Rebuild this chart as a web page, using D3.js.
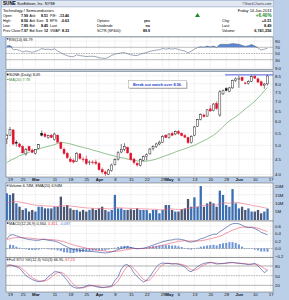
<!DOCTYPE html>
<html lang="en">
<head>
<meta charset="UTF-8" />
<title>SUNE daily chart</title>
<script src="https://d3js.org/d3.v7.min.js"></script>
<style>
  body { margin: 0; background: #bccfe9; }
  svg { display: block; }
  svg text { font-family: "Liberation Sans", Arial, sans-serif; }
  .yax text, .xax text { font-size: 4.3px; fill: #111; font-family: "Liberation Sans", Arial, sans-serif; }
  .yax .domain, .xax .domain { display: none; }
  .grid { stroke: #bfbfbf; stroke-width: 0.4; stroke-dasharray: 0.8, 0.8; }
  .panel { fill: #fff; stroke: #5a5a5a; stroke-width: 0.5; }
</style>
</head>
<body>
<svg width="289" height="300"></svg>
<script>
  // trading days, 15-Feb-2013 .. 14-Jun-2013 (MM-DD)
  const dates = ["02-15","02-19","02-20","02-21","02-22","02-25","02-26","02-27","02-28",
    "03-01","03-04","03-05","03-06","03-07","03-08","03-11","03-12","03-13","03-14","03-15",
    "03-18","03-19","03-20","03-21","03-22","03-25","03-26","03-27","03-28",
    "04-01","04-02","04-03","04-04","04-05","04-08","04-09","04-10","04-11","04-12",
    "04-15","04-16","04-17","04-18","04-19","04-22","04-23","04-24","04-25","04-26","04-29","04-30",
    "05-01","05-02","05-03","05-06","05-07","05-08","05-09","05-10","05-13","05-14","05-15",
    "05-16","05-17","05-20","05-21","05-22","05-23","05-24","05-28","05-29","05-30","05-31",
    "06-03","06-04","06-05","06-06","06-07","06-10","06-11","06-12","06-13","06-14"];
  const axisDates = dates.concat(["06-17"]);

  const open = [5.25,5.40,5.62,5.12,5.05,4.95,4.68,4.95,4.82,4.70,4.88,5.48,5.45,5.30,5.40,5.22,5.40,5.10,4.85,4.70,
    4.50,4.45,4.42,4.68,4.50,4.50,4.38,4.40,4.40,4.35,4.15,4.08,4.00,4.12,4.32,4.50,4.75,4.85,4.92,4.70,
    4.50,4.35,4.28,4.46,4.58,4.68,4.88,4.95,5.05,5.12,5.40,5.30,5.48,5.45,5.55,5.48,5.38,5.30,5.10,5.40,
    5.78,6.10,6.30,6.25,6.60,6.52,6.88,6.30,7.40,7.70,7.55,7.75,8.20,8.25,8.40,8.05,8.00,8.15,8.48,8.30,
    8.12,7.88,7.99];
  const high = [5.45,5.75,5.66,5.20,5.10,5.00,4.90,4.98,4.88,4.86,5.05,5.60,5.52,5.42,5.45,5.50,5.44,5.15,4.92,4.75,
    4.58,4.52,4.75,4.72,4.58,4.62,4.45,4.46,4.48,4.40,4.22,4.12,4.18,4.35,4.52,4.78,5.05,5.08,4.95,4.74,
    4.55,4.40,4.52,4.62,4.70,4.90,5.00,5.10,5.18,5.40,5.45,5.48,5.55,5.60,5.62,5.52,5.45,5.34,5.40,5.80,
    6.12,6.38,6.36,6.60,6.78,6.90,7.00,7.62,7.65,7.78,7.80,8.25,8.40,8.50,8.45,8.12,8.22,8.55,8.52,8.38,
    8.20,8.05,8.56];
  const low = [5.05,5.38,5.00,4.95,4.90,4.70,4.62,4.78,4.70,4.66,4.85,5.35,5.30,5.25,5.28,5.18,5.10,4.85,4.65,4.50,
    4.38,4.35,4.40,4.48,4.40,4.30,4.30,4.32,4.30,4.12,4.02,3.95,3.98,4.08,4.28,4.45,4.70,4.78,4.68,4.45,
    4.32,4.25,4.25,4.44,4.45,4.66,4.80,4.90,5.00,5.10,5.28,5.26,5.36,5.40,5.42,5.35,5.28,5.05,5.06,5.36,
    5.75,6.05,6.18,6.22,6.45,6.48,6.55,6.22,7.35,7.55,7.50,7.70,8.10,7.75,8.15,7.95,7.95,8.10,8.30,8.05,
    7.85,7.70,7.89];
  const close = [5.40,5.65,5.05,5.08,4.95,4.72,4.85,4.80,4.74,4.84,5.02,5.40,5.35,5.38,5.30,5.45,5.12,4.88,4.70,4.55,
    4.42,4.40,4.70,4.52,4.48,4.35,4.40,4.38,4.36,4.15,4.08,4.02,4.14,4.30,4.48,4.72,4.85,4.95,4.72,4.48,
    4.38,4.30,4.48,4.58,4.65,4.86,4.95,5.05,5.12,5.35,5.30,5.45,5.40,5.55,5.48,5.38,5.32,5.10,5.35,5.75,
    6.08,6.32,6.22,6.55,6.50,6.85,6.62,7.52,7.58,7.60,7.75,8.20,8.30,8.35,8.20,8.02,8.15,8.45,8.35,8.10,
    7.90,7.98,8.49];
  const ma20 = [4.38,4.45,4.50,4.55,4.62,4.66,4.70,4.74,4.78,4.82,4.86,4.90,4.93,4.96,4.99,5.03,5.07,5.10,5.10,5.08,
    5.05,5.02,4.98,4.95,4.92,4.89,4.86,4.82,4.79,4.76,4.72,4.69,4.66,4.63,4.60,4.57,4.55,4.53,4.50,4.48,
    4.46,4.44,4.43,4.42,4.43,4.45,4.47,4.50,4.54,4.58,4.62,4.66,4.70,4.75,4.79,4.83,4.87,4.91,4.96,5.00,
    5.06,5.12,5.18,5.24,5.32,5.40,5.50,5.62,5.76,5.90,6.02,6.12,6.22,6.33,6.46,6.60,6.72,6.85,7.00,7.18,
    7.36,7.58,7.78];
  const volume = [15.9,14.9,15.9,9.9,7.9,6.0,6.9,5.0,6.0,5.0,7.9,7.9,6.9,6.9,6.9,7.9,7.9,13.9,7.9,8.9,
    6.9,6.0,6.0,5.0,6.0,5.0,6.0,6.9,6.0,6.9,7.9,6.0,5.0,6.0,14.9,6.9,6.9,6.0,6.0,6.4,
    6.0,6.9,6.0,6.0,6.0,4.0,6.0,6.0,4.0,6.0,8.9,8.9,6.0,5.0,5.0,6.4,6.9,12.5,7.9,13.5,
    7.9,20.2,7.9,9.9,10.9,9.9,7.9,17.5,14.9,8.9,7.9,18.4,9.9,6.9,7.9,6.0,6.9,5.0,5.0,6.0,
    4.0,5.0,6.74];
  const volEma = [10.2,10.6,11.1,11.0,10.7,10.3,10.0,9.5,9.2,8.8,8.7,8.6,8.4,8.3,8.2,8.1,8.1,8.6,8.5,8.5,
    8.3,8.1,7.9,7.6,7.4,7.2,7.1,7.0,6.9,6.9,6.9,6.8,6.6,6.6,7.4,7.3,7.2,7.1,7.0,6.9,
    6.8,6.8,6.7,6.6,6.6,6.4,6.4,6.3,6.1,6.1,6.4,6.6,6.6,6.4,6.3,6.3,6.4,7.0,7.0,7.6,
    7.6,8.8,8.7,8.8,8.9,9.0,8.9,9.7,10.2,10.1,9.9,10.7,10.5,10.2,9.9,9.5,9.2,8.8,8.4,8.1,
    7.7,7.3,6.94];
  const rsi = [74,76,62,63,60,55,58,56,54,57,60,66,63,64,62,65,58,52,47,43,
    40,40,46,43,42,40,41,41,40,36,35,34,38,44,48,50,52,53,49,46,
    44,43,48,51,53,57,59,61,62,66,64,66,64,66,63,60,58,52,57,64,
    69,72,70,74,71,74,69,79,80,79,80,82,81,80,76,73,75,79,74,68,
    61,64,66.79];
  const macd = [0.25,0.36,0.37,0.34,0.31,0.28,0.26,0.24,0.23,0.22,0.22,0.24,0.24,0.22,0.21,0.20,0.17,0.13,0.08,0.04,
    0.00,-0.03,-0.03,-0.05,-0.06,-0.07,-0.08,-0.08,-0.09,-0.10,-0.11,-0.12,-0.11,-0.09,-0.06,-0.03,0.00,0.03,0.04,0.03,
    0.01,-0.01,0.00,0.01,0.03,0.06,0.09,0.12,0.15,0.18,0.20,0.22,0.23,0.25,0.25,0.24,0.22,0.18,0.17,0.19,
    0.22,0.26,0.28,0.32,0.35,0.38,0.38,0.45,0.50,0.56,0.62,0.66,0.67,0.66,0.62,0.58,0.56,0.56,0.53,0.49,
    0.43,0.40,0.364];
  const signal = [0.24,0.26,0.28,0.29,0.29,0.29,0.28,0.28,0.27,0.26,0.25,0.25,0.25,0.24,0.24,0.23,0.22,0.20,0.18,0.15,
    0.12,0.09,0.07,0.05,0.03,0.01,-0.01,-0.02,-0.04,-0.05,-0.06,-0.07,-0.08,-0.08,-0.08,-0.07,-0.06,-0.04,-0.03,-0.01,
    0.00,0.00,0.00,0.00,0.01,0.02,0.03,0.05,0.07,0.09,0.11,0.13,0.15,0.17,0.19,0.20,0.21,0.20,0.20,0.20,
    0.20,0.21,0.22,0.24,0.26,0.28,0.30,0.33,0.36,0.41,0.45,0.49,0.52,0.55,0.57,0.57,0.57,0.57,0.56,0.54,
    0.51,0.48,0.451];
  const hist = [0.01,0.10,0.09,0.05,0.02,-0.01,-0.02,-0.04,-0.04,-0.04,-0.03,-0.01,-0.01,-0.02,-0.03,-0.03,-0.05,-0.07,-0.10,-0.11,
    -0.12,-0.12,-0.10,-0.10,-0.09,-0.08,-0.07,-0.06,-0.05,-0.05,-0.05,-0.05,-0.03,-0.01,0.02,0.04,0.06,0.07,0.07,0.04,
    0.01,-0.01,0.00,0.01,0.02,0.04,0.06,0.07,0.08,0.09,0.09,0.09,0.08,0.08,0.06,0.04,0.01,-0.02,-0.03,-0.01,
    0.02,0.05,0.06,0.08,0.09,0.10,0.08,0.12,0.14,0.15,0.17,0.17,0.15,0.11,0.05,0.01,-0.01,-0.01,-0.03,-0.05,
    -0.08,-0.08,-0.087];
  const stoK = [78,83,80,77,73,62,50,44,38,34,31,33,36,46,54,62,62,58,47,35,
    21,14,11,12,14,18,21,19,16,14,13,14,16,18,35,47,70,83,84,75,
    58,47,38,30,36,47,62,76,86,89,88,88,86,87,86,82,77,66,62,70,
    78,84,88,90,91,89,86,87,88,89,91,91,89,88,87,86,84,86,88,80,
    70,59,66.95];
  const stoD = [84,83,82,80,77,70,62,52,44,38,34,33,33,38,45,54,59,61,56,47,
    34,23,15,12,12,15,18,19,19,16,14,14,14,16,23,33,50,67,79,81,
    72,60,48,38,34,37,48,62,75,84,88,88,87,87,86,85,82,75,68,66,
    70,77,83,87,90,90,89,87,87,88,89,90,90,89,88,87,86,85,86,85,
    79,72,67.23];

  // axis labels
  const tickDates = ["02-19","02-25","03-01","03-11","03-18","03-25","04-01","04-08","04-15","04-22",
    "04-29","05-01","05-06","05-13","05-20","05-28","06-03","06-10","06-17"];
  const tickText = ["19","25","Mar","11","18","25","Apr","8","15","22","29","May","6","13","20","28","Jun","10","17"];
  const priceTicks = [4.0,4.5,5.0,5.5,6.0,6.5,7.0,7.5,8.0,8.5,9.0];
  const rsiTicks = [90,70,50,30];
  const volTicks = [5,10,15,20];
  const macdTicks = [0.6,0.4,0.2,0.0,-0.2];
  const stoTicks = [80,50,20];
  const breakout = 8.56;

  const svg = d3.select("svg");
  const X0 = 6, X1 = 273;
  const x = d3.scaleLinear().domain([0, 83]).range([6.8, 270.7]);
  const tickIdx = tickDates.map(d => axisDates.indexOf(d));

  const P = {
    rsi: { top: 37, bottom: 69.5 },
    price: { top: 71.5, bottom: 177 },
    vol: { top: 183, bottom: 221 },
    macd: { top: 221, bottom: 257.5 },
    sto: { top: 257.5, bottom: 292 }
  };
  const yRsi = d3.scaleLinear().domain([0, 100]).range([69, 38]);
  const yPrice = d3.scaleLog().domain([4, 9]).range([174.5, 68.3]);
  const yVol = d3.scaleLinear().domain([0, 20]).range([220, 186.4]);
  const yMacd = d3.scaleLinear().domain([-0.2, 0.6]).range([256, 226]);
  const ySto = d3.scaleLinear().domain([0, 100]).range([291.8, 259.5]);

  // header
  const hdr = svg.append("g");
  hdr.append("rect").attr("x", 1.5).attr("y", 0.5).attr("width", 272).attr("height", 6.5)
    .attr("fill", "#e2e8f2").attr("stroke", "#8a9cc2").attr("stroke-width", 0.4);
  hdr.append("rect").attr("x", 1.5).attr("y", 7).attr("width", 272).attr("height", 29.5)
    .attr("fill", "#fff").attr("stroke", "#8a9cc2").attr("stroke-width", 0.4);
  const title = hdr.append("text").attr("x", 3).attr("y", 5.2).attr("font-size", 3.8);
  title.append("tspan").attr("font-weight", "bold").attr("font-size", 4.6).text("SUNE ");
  title.append("tspan").text("SunEdison, Inc.  NYSE");
  hdr.append("text").attr("x", 271.5).attr("y", 4.9).attr("text-anchor", "end")
    .attr("font-size", 3.5).attr("fill", "#334").text("©StockCharts.com");
  hdr.append("text").attr("x", 3).attr("y", 11.6).attr("font-size", 3.9).text("Technology / Semiconductors");
  hdr.append("text").attr("x", 271.5).attr("y", 11.6).attr("font-size", 3.9).attr("text-anchor", "end")
    .text("Friday 14-Jun-2013");

  const hdrRows = [
    ["Open:", "7.99", "Ask:", "8.51", "P/E:", "-13.46", "", ""],
    ["High:", "8.56", "Ask Size:", "5", "EPS:", "-0.63", "Options:", "yes"],
    ["Low:", "7.89", "Bid:", "8.45", "Last:", "", "Dividends:", "no"],
    ["Prev Close:", "7.97", "Bid Size:", "12", "VWAP:", "8.33", "SCTR (SP400):", "89.9"]
  ];
  const labX = [3, 29.5, 50, 97], valX = [28, 48, 69, 150];
  hdrRows.forEach((row, r) => {
    const yy = 16.8 + r * 5;
    for (let c = 0; c < 4; c++) {
      hdr.append("text").attr("x", labX[c]).attr("y", yy).attr("font-size", 3.5).text(row[c * 2]);
      hdr.append("text").attr("x", valX[c]).attr("y", yy).attr("font-size", 3.6).attr("font-weight", "bold")
        .attr("text-anchor", "end").text(row[c * 2 + 1]);
    }
  });
  const rightRows = [["", "+6.40%"], ["Chg:", "+0.51"], ["Last:", "8.49"], ["Volume:", "6,741,256"]];
  rightRows.forEach((row, r) => {
    const yy = 16.8 + r * 5;
    hdr.append("text").attr("x", 222).attr("y", yy).attr("font-size", 3.7).text(row[0]);
    hdr.append("text").attr("x", 271.5).attr("y", yy).attr("font-size", r === 0 ? 4.6 : 3.9)
      .attr("font-weight", "bold").attr("text-anchor", "end")
      .attr("fill", r === 0 ? "#1a8a2a" : "#111").text(row[1]);
  });
  hdr.append("path").attr("d", "M195,17 L197.5,13 L200,17 Z").attr("fill", "#1a8a2a");

  // panels
  Object.values(P).forEach(p => {
    svg.append("rect").attr("class", "panel").attr("x", X0).attr("y", p.top)
      .attr("width", X1 - X0).attr("height", p.bottom - p.top);
  });

  function hGrid(scale, ticks) {
    svg.append("g").selectAll("line").data(ticks).join("line").attr("class", "grid")
      .attr("x1", X0).attr("x2", X1).attr("y1", d => scale(d)).attr("y2", d => scale(d));
  }
  function vGrid(p) {
    svg.append("g").selectAll("line").data(tickIdx).join("line").attr("class", "grid")
      .attr("x1", d => x(d)).attr("x2", d => x(d)).attr("y1", p.top).attr("y2", p.bottom);
  }
  function rightAxis(scale, ticks, fmt) {
    svg.append("g").attr("class", "yax").attr("transform", `translate(${X1},0)`)
      .call(d3.axisRight(scale).tickValues(ticks).tickSize(0).tickPadding(2).tickFormat(fmt));
  }
  function clip(id, p) {
    svg.append("clipPath").attr("id", id).append("rect")
      .attr("x", X0).attr("y", p.top).attr("width", X1 - X0).attr("height", p.bottom - p.top);
  }
  function legend(y, parts, icon) {
    const t = svg.append("text").attr("x", 9).attr("y", y).attr("font-size", 3.8);
    parts.forEach(([s, col]) => t.append("tspan").attr("fill", col).text(s));
    svg.append("rect").attr("x", 6.8).attr("y", y - 2.6).attr("width", 1.7).attr("height", 1.7).attr("fill", icon);
  }
  Object.values(P).forEach(vGrid);

  // RSI
  hGrid(yRsi, rsiTicks);
  clip("cRsi", P.rsi);
  const gR = svg.append("g").attr("clip-path", "url(#cRsi)");
  [70, 30].forEach(v => gR.append("line").attr("x1", X0).attr("x2", X1).attr("y1", yRsi(v)).attr("y2", yRsi(v))
    .attr("stroke", "#8a8a8a").attr("stroke-width", 0.5));
  gR.append("line").attr("x1", X0).attr("x2", X1).attr("y1", yRsi(50)).attr("y2", yRsi(50))
    .attr("stroke", "#666").attr("stroke-width", 0.4).attr("stroke-dasharray", "1.5,1");
  gR.append("path").datum(rsi).attr("fill", "#5b86cf")
    .attr("d", d3.area().x((d, i) => x(i)).y0(yRsi(70)).y1(d => yRsi(Math.max(d, 70))));
  gR.append("path").datum(rsi).attr("fill", "none").attr("stroke", "#5d6b8a").attr("stroke-width", 0.6)
    .attr("d", d3.line().x((d, i) => x(i)).y(d => yRsi(d)));
  rightAxis(yRsi, rsiTicks, d3.format("d"));
  legend(40.6, [["RSI(14) " + rsi[rsi.length - 1].toFixed(2), "#111"]], "#3b63b8");

  // price
  hGrid(yPrice, priceTicks);
  clip("cPrice", P.price);
  const gP = svg.append("g").attr("clip-path", "url(#cPrice)");
  gP.append("path").datum(ma20).attr("fill", "none").attr("stroke", "#4c9a4c").attr("stroke-width", 0.6)
    .attr("d", d3.line().x((d, i) => x(i)).y(d => yPrice(d)));
  const bars = dates.map((d, i) => ({
    i, o: open[i], h: high[i], l: low[i], c: close[i],
    up: i === 0 ? close[i] >= open[i] : close[i] >= close[i - 1]
  }));
  const col = d => d.up ? "#111" : "#e0102c";
  gP.selectAll(".wick").data(bars).join("line")
    .attr("x1", d => x(d.i)).attr("x2", d => x(d.i))
    .attr("y1", d => yPrice(d.h)).attr("y2", d => yPrice(d.l))
    .attr("stroke", col).attr("stroke-width", 0.55);
  gP.selectAll(".body").data(bars).join("rect")
    .attr("x", d => x(d.i) - 1).attr("width", 2)
    .attr("y", d => yPrice(Math.max(d.o, d.c)))
    .attr("height", d => Math.max(0.4, yPrice(Math.min(d.o, d.c)) - yPrice(Math.max(d.o, d.c))))
    .attr("fill", d => d.c >= d.o ? "#fff" : col(d))
    .attr("stroke", col).attr("stroke-width", 0.45);
  // breakout line + note
  gP.append("line").attr("x1", x(dates.indexOf("05-28")) - 1).attr("x2", X1)
    .attr("y1", yPrice(breakout)).attr("y2", yPrice(breakout))
    .attr("stroke", "#2236d8").attr("stroke-width", 0.8);
  svg.append("rect").attr("x", 129.5).attr("y", 81.5).attr("width", 58).attr("height", 7.5)
    .attr("fill", "#bbb");
  svg.append("rect").attr("x", 128.5).attr("y", 80.5).attr("width", 58).attr("height", 7.5)
    .attr("fill", "#fff").attr("stroke", "#8a8a8a").attr("stroke-width", 0.4);
  svg.append("text").attr("x", 157.5).attr("y", 85.6).attr("text-anchor", "middle")
    .attr("font-size", 3.9).attr("font-weight", "bold").attr("fill", "#1f3fd0")
    .text("Break out watch over " + breakout + ".");
  rightAxis(yPrice, priceTicks, d3.format(".1f"));
  legend(76.2, [["SUNE (Daily) " + close[close.length - 1].toFixed(2), "#111"]], "#111");
  svg.append("rect").attr("x", 6.8).attr("y", 79.2).attr("width", 1.9).attr("height", 0.8).attr("fill", "#4c9a4c");
  svg.append("text").attr("x", 9).attr("y", 80.8).attr("font-size", 3.8).attr("fill", "#3c8a3c")
    .text("MA(20) " + ma20[ma20.length - 1].toFixed(2));

  // date axes
  function dateAxis(y) {
    const g = svg.append("g").attr("class", "xax").attr("transform", `translate(0,${y})`)
      .call(d3.axisBottom(x).tickValues(tickIdx).tickSize(0).tickPadding(0)
        .tickFormat((d, i) => tickText[i]));
    g.selectAll("text").attr("font-weight", (d, i) => /[A-Z]/.test(tickText[i]) ? "bold" : null);
  }
  dateAxis(178.2);
  dateAxis(293.4);

  // volume
  hGrid(yVol, volTicks);
  clip("cVol", P.vol);
  const gV = svg.append("g").attr("clip-path", "url(#cVol)");
  gV.selectAll("rect").data(bars).join("rect")
    .attr("x", d => x(d.i) - 1.15).attr("width", 2.3)
    .attr("y", d => yVol(volume[d.i])).attr("height", d => yVol(0) - yVol(volume[d.i]))
    .attr("fill", d => d.up ? "#3b6fb2" : "#4b5674");
  gV.append("path").datum(volEma).attr("fill", "none").attr("stroke", "#f0667e").attr("stroke-width", 0.6)
    .attr("d", d3.line().x((d, i) => x(i)).y(d => yVol(d)));
  rightAxis(yVol, volTicks, d => d + "M");
  legend(187.2, [["Volume " + volume[volume.length - 1].toFixed(2) + "M, EMA(20) " +
    volEma[volEma.length - 1].toFixed(2) + "M", "#111"]], "#3b6fb2");

  // MACD
  hGrid(yMacd, macdTicks);
  clip("cMacd", P.macd);
  const gM = svg.append("g").attr("clip-path", "url(#cMacd)");
  gM.selectAll("rect").data(hist).join("rect")
    .attr("x", (d, i) => x(i) - 1).attr("width", 2)
    .attr("y", d => yMacd(Math.max(d, 0))).attr("height", d => Math.abs(yMacd(d) - yMacd(0)))
    .attr("fill", "#6f96d6");
  gM.append("line").attr("x1", X0).attr("x2", X1).attr("y1", yMacd(0)).attr("y2", yMacd(0))
    .attr("stroke", "#555").attr("stroke-width", 0.4).attr("stroke-dasharray", "1.5,1");
  gM.append("path").datum(signal).attr("fill", "none").attr("stroke", "#ec5470").attr("stroke-width", 0.6)
    .attr("d", d3.line().x((d, i) => x(i)).y(d => yMacd(d)));
  gM.append("path").datum(macd).attr("fill", "none").attr("stroke", "#2f4595").attr("stroke-width", 0.6)
    .attr("d", d3.line().x((d, i) => x(i)).y(d => yMacd(d)));
  rightAxis(yMacd, macdTicks, d3.format(".1f"));
  legend(224.8, [["MACD(12,26,9) " + macd[82].toFixed(3) + ", ", "#111"],
    [signal[82].toFixed(3), "#e0304c"], [", " + hist[82].toFixed(3), "#4a78c8"]], "#2f4595");

  // full stochastics
  hGrid(ySto, stoTicks);
  clip("cSto", P.sto);
  const gS = svg.append("g").attr("clip-path", "url(#cSto)");
  [80, 20].forEach(v => gS.append("line").attr("x1", X0).attr("x2", X1).attr("y1", ySto(v)).attr("y2", ySto(v))
    .attr("stroke", "#777").attr("stroke-width", 0.5));
  gS.append("line").attr("x1", X0).attr("x2", X1).attr("y1", ySto(50)).attr("y2", ySto(50))
    .attr("stroke", "#666").attr("stroke-width", 0.4).attr("stroke-dasharray", "1.5,1");
  gS.append("path").datum(stoD).attr("fill", "none").attr("stroke", "#ec5470").attr("stroke-width", 0.6)
    .attr("d", d3.line().x((d, i) => x(i)).y(d => ySto(d)));
  gS.append("path").datum(stoK).attr("fill", "none").attr("stroke", "#2f4595").attr("stroke-width", 0.6)
    .attr("d", d3.line().x((d, i) => x(i)).y(d => ySto(d)));
  rightAxis(ySto, stoTicks, d3.format("d"));
  legend(261.2, [["Full STO %K(12,3) %D(3) " + stoK[82].toFixed(2) + ", ", "#111"],
    [stoD[82].toFixed(2), "#e0304c"]], "#2f4595");
</script>
</body>
</html>
